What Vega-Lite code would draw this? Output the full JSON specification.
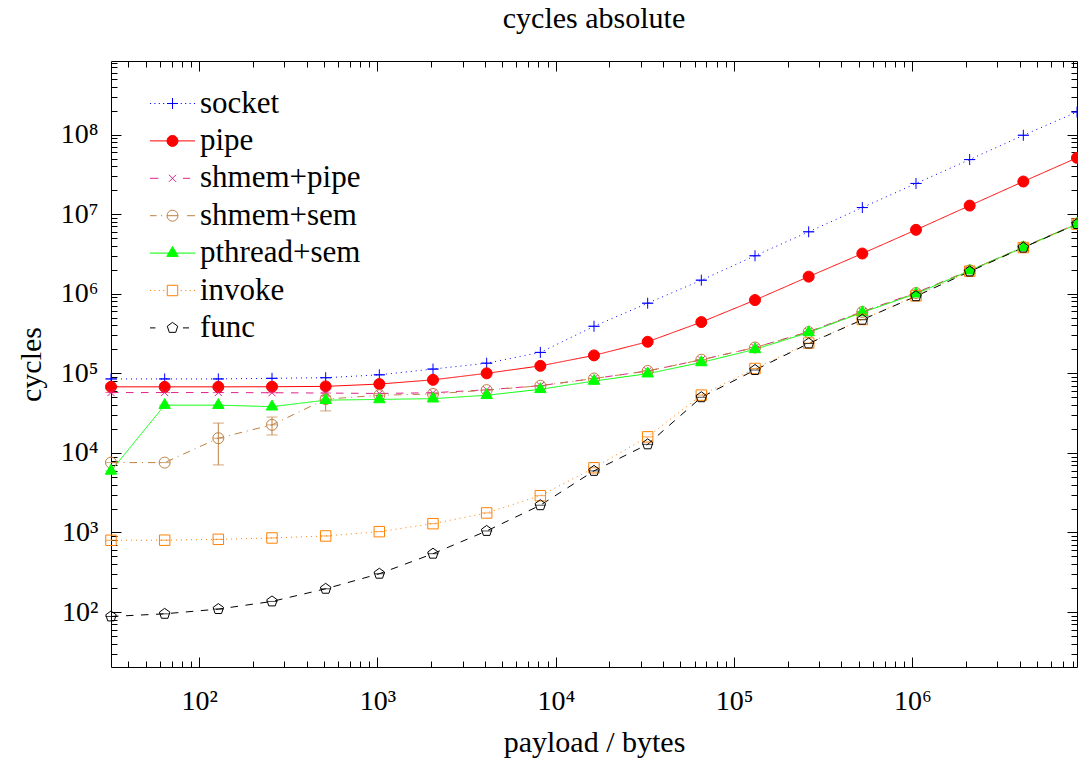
{
  "$schema": "https://vega.github.io/schema/vega-lite/v6.json",
  "width": 966,
  "height": 606,
  "autosize": {"type": "none"},
  "padding": {"left": 111, "top": 61, "right": 1, "bottom": 96},
  "background": "white",
  "title": {"text": "cycles absolute", "font": "Liberation Serif", "fontSize": 30, "fontWeight": "normal", "color": "#000", "anchor": "middle", "frame": "group", "offset": 3, "baseline": "alphabetic"},
  "config": {
    "view": {"stroke": null},
    "font": "Liberation Serif",
    "axis": {"grid": false, "domainColor": "#000", "domainWidth": 1, "tickColor": "#000", "tickWidth": 1, "labelFont": "Liberation Serif", "labelFontSize": 28, "labelColor": "#000", "titleFont": "Liberation Serif", "titleFontSize": 30, "titleFontWeight": "normal", "titleColor": "#000", "labelOverlap": false, "labelFlush": false, "labelBound": false},
    "legend": {"labelFont": "Liberation Serif", "labelFontSize": 31, "labelColor": "#000", "symbolSize": 121, "symbolStrokeWidth": 1, "labelOffset": 12, "rowPadding": 5.4, "labelLimit": 0, "padding": 0}
  },
  "datasets": {
    "main": [
      {"s":"socket","x":32,"y":85000},{"s":"socket","x":64,"y":85000},{"s":"socket","x":128,"y":85000},{"s":"socket","x":256,"y":86500},{"s":"socket","x":512,"y":88000},{"s":"socket","x":1024,"y":95700},{"s":"socket","x":2048,"y":113000},{"s":"socket","x":4096,"y":134000},{"s":"socket","x":8192,"y":183000},{"s":"socket","x":16384,"y":390000},{"s":"socket","x":32768,"y":760000},{"s":"socket","x":65536,"y":1480000},{"s":"socket","x":131072,"y":3000000},{"s":"socket","x":262144,"y":6000000},{"s":"socket","x":524288,"y":12100000},{"s":"socket","x":1048576,"y":24300000},{"s":"socket","x":2097152,"y":48500000},{"s":"socket","x":4194304,"y":98000000},{"s":"socket","x":8388608,"y":192000000},
      {"s":"pipe","x":32,"y":67600},{"s":"pipe","x":64,"y":67600},{"s":"pipe","x":128,"y":67600},{"s":"pipe","x":256,"y":67800},{"s":"pipe","x":512,"y":68500},{"s":"pipe","x":1024,"y":73300},{"s":"pipe","x":2048,"y":82800},{"s":"pipe","x":4096,"y":100000},{"s":"pipe","x":8192,"y":124000},{"s":"pipe","x":16384,"y":168000},{"s":"pipe","x":32768,"y":249000},{"s":"pipe","x":65536,"y":440000},{"s":"pipe","x":131072,"y":832000},{"s":"pipe","x":262144,"y":1640000},{"s":"pipe","x":524288,"y":3200000},{"s":"pipe","x":1048576,"y":6350000},{"s":"pipe","x":2097152,"y":12800000},{"s":"pipe","x":4194304,"y":25700000},{"s":"pipe","x":8388608,"y":51000000},
      {"s":"shmem+pipe","x":32,"y":57300},{"s":"shmem+pipe","x":64,"y":57300},{"s":"shmem+pipe","x":128,"y":57300},{"s":"shmem+pipe","x":256,"y":57000},{"s":"shmem+pipe","x":512,"y":56500},{"s":"shmem+pipe","x":1024,"y":55800},{"s":"shmem+pipe","x":2048,"y":57000},{"s":"shmem+pipe","x":4096,"y":62000},{"s":"shmem+pipe","x":8192,"y":70000},{"s":"shmem+pipe","x":16384,"y":86000},{"s":"shmem+pipe","x":32768,"y":107000},{"s":"shmem+pipe","x":65536,"y":148000},{"s":"shmem+pipe","x":131072,"y":211000},{"s":"shmem+pipe","x":262144,"y":333000},{"s":"shmem+pipe","x":524288,"y":595000},{"s":"shmem+pipe","x":1048576,"y":1030000},{"s":"shmem+pipe","x":2097152,"y":1960000},{"s":"shmem+pipe","x":4194304,"y":3850000},{"s":"shmem+pipe","x":8388608,"y":7600000},
      {"s":"shmem+sem","x":32,"y":7550},{"s":"shmem+sem","x":64,"y":7550},{"s":"shmem+sem","x":128,"y":15300},{"s":"shmem+sem","x":256,"y":22500},{"s":"shmem+sem","x":512,"y":47300},{"s":"shmem+sem","x":1024,"y":53000},{"s":"shmem+sem","x":2048,"y":55000},{"s":"shmem+sem","x":4096,"y":61500},{"s":"shmem+sem","x":8192,"y":69700},{"s":"shmem+sem","x":16384,"y":86000},{"s":"shmem+sem","x":32768,"y":107000},{"s":"shmem+sem","x":65536,"y":148000},{"s":"shmem+sem","x":131072,"y":211000},{"s":"shmem+sem","x":262144,"y":330000},{"s":"shmem+sem","x":524288,"y":590000},{"s":"shmem+sem","x":1048576,"y":1020000},{"s":"shmem+sem","x":2097152,"y":1960000},{"s":"shmem+sem","x":4194304,"y":3850000},{"s":"shmem+sem","x":8388608,"y":7600000},
      {"s":"pthread+sem","x":32,"y":5940},{"s":"pthread+sem","x":64,"y":39800},{"s":"pthread+sem","x":128,"y":39800},{"s":"pthread+sem","x":256,"y":38100},{"s":"pthread+sem","x":512,"y":46000},{"s":"pthread+sem","x":1024,"y":47000},{"s":"pthread+sem","x":2048,"y":48000},{"s":"pthread+sem","x":4096,"y":53000},{"s":"pthread+sem","x":8192,"y":63000},{"s":"pthread+sem","x":16384,"y":80000},{"s":"pthread+sem","x":32768,"y":99000},{"s":"pthread+sem","x":65536,"y":137000},{"s":"pthread+sem","x":131072,"y":200000},{"s":"pthread+sem","x":262144,"y":326000},{"s":"pthread+sem","x":524288,"y":582000},{"s":"pthread+sem","x":1048576,"y":1000000},{"s":"pthread+sem","x":2097152,"y":1950000},{"s":"pthread+sem","x":4194304,"y":3820000},{"s":"pthread+sem","x":8388608,"y":7500000},
      {"s":"invoke","x":32,"y":798},{"s":"invoke","x":64,"y":800},{"s":"invoke","x":128,"y":820},{"s":"invoke","x":256,"y":853},{"s":"invoke","x":512,"y":904},{"s":"invoke","x":1024,"y":1024},{"s":"invoke","x":2048,"y":1290},{"s":"invoke","x":4096,"y":1760},{"s":"invoke","x":8192,"y":2900},{"s":"invoke","x":16384,"y":6500},{"s":"invoke","x":32768,"y":15900},{"s":"invoke","x":65536,"y":53200},{"s":"invoke","x":131072,"y":115000},{"s":"invoke","x":262144,"y":240000},{"s":"invoke","x":524288,"y":475000},{"s":"invoke","x":1048576,"y":940000},{"s":"invoke","x":2097152,"y":1920000},{"s":"invoke","x":4194304,"y":3800000},{"s":"invoke","x":8388608,"y":7500000},
      {"s":"func","x":32,"y":88},{"s":"func","x":64,"y":95},{"s":"func","x":128,"y":109},{"s":"func","x":256,"y":136},{"s":"func","x":512,"y":196},{"s":"func","x":1024,"y":303},{"s":"func","x":2048,"y":541},{"s":"func","x":4096,"y":1045},{"s":"func","x":8192,"y":2200},{"s":"func","x":16384,"y":5940},{"s":"func","x":32768,"y":12800},{"s":"func","x":65536,"y":50000},{"s":"func","x":131072,"y":110000},{"s":"func","x":262144,"y":237000},{"s":"func","x":524288,"y":471000},{"s":"func","x":1048576,"y":930000},{"s":"func","x":2097152,"y":1900000},{"s":"func","x":4194304,"y":3800000},{"s":"func","x":8388608,"y":7500000}
    ],
    "errs": [
      {"s":"shmem+sem","x":128,"lo":7060,"hi":23700},
      {"s":"shmem+sem","x":256,"lo":16800,"hi":28200},
      {"s":"shmem+sem","x":512,"lo":33700,"hi":52000}
    ]
  },
  "layer": [
    {
      "data": {"name": "errs"},
      "mark": {"type": "rule", "color": "#bf8040", "strokeWidth": 1},
      "encoding": {
        "x": {"field": "x", "type": "quantitative", "scale": {"type": "log", "domain": [32, 8388608], "nice": false},
          "axis": {"orient": "top", "title": null, "labels": false, "values": [40,50,60,70,80,90,100,200,300,400,500,600,700,800,900,1000,2000,3000,4000,5000,6000,7000,8000,9000,10000,20000,30000,40000,50000,60000,70000,80000,90000,100000,200000,300000,400000,500000,600000,700000,800000,900000,1000000,2000000,3000000,4000000,5000000,6000000,7000000,8000000],
            "tickSize": {"condition": {"test": "abs(log(datum.value)/LN10 - round(log(datum.value)/LN10)) < 0.000001", "value": -10}, "value": -6}}},
        "y": {"field": "lo", "type": "quantitative", "scale": {"type": "log", "domain": [20.4, 840000000], "nice": false},
          "axis": {"orient": "right", "title": null, "labels": false, "values": [30,40,50,60,70,80,90,100,200,300,400,500,600,700,800,900,1000,2000,3000,4000,5000,6000,7000,8000,9000,10000,20000,30000,40000,50000,60000,70000,80000,90000,100000,200000,300000,400000,500000,600000,700000,800000,900000,1000000,2000000,3000000,4000000,5000000,6000000,7000000,8000000,9000000,10000000,20000000,30000000,40000000,50000000,60000000,70000000,80000000,90000000,100000000,200000000,300000000,400000000,500000000,600000000,700000000,800000000],
            "tickSize": {"condition": {"test": "abs(log(datum.value)/LN10 - round(log(datum.value)/LN10)) < 0.000001", "value": -10}, "value": -6}}},
        "y2": {"field": "hi"}
      }
    },
    {
      "data": {"name": "errs"},
      "mark": {"type": "tick", "orient": "horizontal", "size": 11, "thickness": 1, "color": "#bf8040"},
      "encoding": {
        "x": {"field": "x", "type": "quantitative",
          "axis": {"orient": "bottom", "title": null, "labels": false, "values": [40,50,60,70,80,90,100,200,300,400,500,600,700,800,900,1000,2000,3000,4000,5000,6000,7000,8000,9000,10000,20000,30000,40000,50000,60000,70000,80000,90000,100000,200000,300000,400000,500000,600000,700000,800000,900000,1000000,2000000,3000000,4000000,5000000,6000000,7000000,8000000],
            "tickSize": {"condition": {"test": "abs(log(datum.value)/LN10 - round(log(datum.value)/LN10)) < 0.000001", "value": -10}, "value": -6}}},
        "y": {"field": "lo", "type": "quantitative",
          "axis": {"orient": "left", "title": null, "labels": false, "values": [30,40,50,60,70,80,90,100,200,300,400,500,600,700,800,900,1000,2000,3000,4000,5000,6000,7000,8000,9000,10000,20000,30000,40000,50000,60000,70000,80000,90000,100000,200000,300000,400000,500000,600000,700000,800000,900000,1000000,2000000,3000000,4000000,5000000,6000000,7000000,8000000,9000000,10000000,20000000,30000000,40000000,50000000,60000000,70000000,80000000,90000000,100000000,200000000,300000000,400000000,500000000,600000000,700000000,800000000],
            "tickSize": {"condition": {"test": "abs(log(datum.value)/LN10 - round(log(datum.value)/LN10)) < 0.000001", "value": -10}, "value": -6}}}
      }
    },
    {
      "data": {"name": "errs"},
      "mark": {"type": "tick", "orient": "horizontal", "size": 11, "thickness": 1, "color": "#bf8040"},
      "encoding": {
        "x": {"field": "x", "type": "quantitative", "axis": null},
        "y": {"field": "hi", "type": "quantitative", "axis": null}
      }
    },
    {
      "data": {"name": "main"},
      "mark": {"type": "line", "strokeWidth": 1},
      "encoding": {
        "x": {"field": "x", "type": "quantitative",
          "axis": {"orient": "bottom", "title": "payload / bytes", "titlePadding": 12, "labelPadding": 20, "ticks": false, "tickSize": 0, "domain": false,
            "labelFont": "Liberation Serif", "labelFontSize": 28,
            "values": [100,1000,10000,100000,1000000],
            "labelExpr": "'10' + ['⁰','¹','²','³','⁴','⁵','⁶','⁷','⁸','⁹'][round(log(datum.value)/LN10)]"}},
        "y": {"field": "y", "type": "quantitative",
          "axis": {"orient": "left", "title": "cycles", "titlePadding": 14, "labelPadding": 13, "ticks": false, "tickSize": 0, "domain": false,
            "labelFont": "Liberation Serif", "labelFontSize": 28,
            "values": [100,1000,10000,100000,1000000,10000000,100000000],
            "labelExpr": "'10' + ['⁰','¹','²','³','⁴','⁵','⁶','⁷','⁸','⁹'][round(log(datum.value)/LN10)]"}},
        "stroke": {"field": "s", "type": "nominal", "legend": null,
          "scale": {"domain": ["socket","pipe","shmem+pipe","shmem+sem","pthread+sem","invoke","func"], "range": ["#0000ff","#ff0000","#e0228c","#bf8040","#00ff00","#ff8000","#000000"]}},
        "strokeDash": {"field": "s", "type": "nominal", "legend": null,
          "scale": {"domain": ["socket","pipe","shmem+pipe","shmem+sem","pthread+sem","invoke","func"], "range": [[1,4],[1,0],[7.5,7.5],[7.5,5,1,5],[1,0],[1,4],[7.5,7.5]]}}
      }
    },
    {
      "data": {"name": "main"},
      "mark": {"type": "tick", "orient": "horizontal", "size": 11, "thickness": 1},
      "encoding": {
        "x": {"field": "x", "type": "quantitative", "axis": null},
        "y": {"field": "y", "type": "quantitative", "axis": null},
        "color": {"field": "s", "type": "nominal", "legend": null,
          "scale": {"domain": ["socket","pipe","shmem+pipe","shmem+sem","pthread+sem","invoke","func"], "range": ["#0000ff","#ff0000","#e0228c","#bf8040","#00ff00","#ff8000","#000000"]}}
      }
    },
    {
      "data": {"name": "main"},
      "mark": {"type": "point", "size": 121, "strokeWidth": 1, "opacity": 1},
      "encoding": {
        "x": {"field": "x", "type": "quantitative", "axis": null},
        "y": {"field": "y", "type": "quantitative", "axis": null},
        "color": {"field": "s", "type": "nominal", "legend": null,
          "scale": {"domain": ["socket","pipe","shmem+pipe","shmem+sem","pthread+sem","invoke","func"], "range": ["#0000ff","#ff0000","#e0228c","#bf8040","#00ff00","#ff8000","#000000"]}},
        "fill": {"field": "s", "type": "nominal", "legend": null,
          "scale": {"domain": ["socket","pipe","shmem+pipe","shmem+sem","pthread+sem","invoke","func"], "range": ["transparent","#ff0000","transparent","transparent","#00ff00","transparent","transparent"]}},
        "shape": {"field": "s", "type": "nominal", "legend": null,
          "scale": {"domain": ["socket","pipe","shmem+pipe","shmem+sem","pthread+sem","invoke","func"], "range": ["M-1,0H1M0,-1V1","circle","M-0.65,-0.65L0.65,0.65M-0.65,0.65L0.65,-0.65","circle","M0,-1.2L1.04,0.6L-1.04,0.6Z","M-0.95,-0.95H0.95V0.95H-0.95Z","M0,-1L0.951,-0.309L0.588,0.809L-0.588,0.809L-0.951,-0.309Z"]}}
      }
    },
    {
      "data": {"name": "main"},
      "transform": [{"filter": "false"}],
      "mark": {"type": "point", "size": 121, "strokeWidth": 1},
      "encoding": {
        "x": {"field": "x", "type": "quantitative", "axis": null},
        "y": {"field": "y", "type": "quantitative", "axis": null},
        "color": {"field": "s", "type": "nominal",
          "scale": {"domain": ["socket","pipe","shmem+pipe","shmem+sem","pthread+sem","invoke","func"], "range": ["#0000ff","#ff0000","#e0228c","#bf8040","#00ff00","#ff8000","#000000"]},
          "legend": {"orient": "none", "legendX": 46, "legendY": 27, "title": null, "padding": 0, "labelFont": "Liberation Serif", "labelFontSize": 31, "labelColor": "#000", "symbolSize": 121, "symbolStrokeWidth": 1, "labelOffset": 12, "rowPadding": 5.4, "labelLimit": 0, "symbolOpacity": 1}},
        "fill": {"field": "s", "type": "nominal",
          "scale": {"domain": ["socket","pipe","shmem+pipe","shmem+sem","pthread+sem","invoke","func"], "range": ["transparent","#ff0000","transparent","transparent","#00ff00","transparent","transparent"]},
          "legend": {"orient": "none", "legendX": 46, "legendY": 27, "title": null, "padding": 0, "labelFont": "Liberation Serif", "labelFontSize": 31, "labelColor": "#000", "symbolSize": 121, "symbolStrokeWidth": 1, "labelOffset": 12, "rowPadding": 5.4, "labelLimit": 0, "symbolOpacity": 1}},
        "shape": {"field": "s", "type": "nominal",
          "scale": {"domain": ["socket","pipe","shmem+pipe","shmem+sem","pthread+sem","invoke","func"], "range": [
            "M-4.1,0H-3.9M-3.3,0H-3.1M-2.5,0H-2.3M-1.7,0H-1.5M1.5,0H1.7M2.3,0H2.5M3.1,0H3.3M3.9,0H4.1M-1,0H1M0,-1V1",
            "M-4.09,0H4.09M1,0A1,1 0 1,1 -1,0A1,1 0 1,1 1,0Z",
            "M-4.09,0H-2.58M1.9,0H3.2M-0.65,-0.65L0.65,0.65M-0.65,0.65L0.65,-0.65",
            "M-4.09,0H-2.9M-2.1,0H-1.9M-1,0H1M1,0A1,1 0 1,1 -1,0A1,1 0 1,1 1,0M2.63,0H4.09",
            "M-4.09,0H4.09M0,-1.2L1.04,0.6L-1.04,0.6Z",
            "M-4.1,0H-3.9M-3.3,0H-3.1M-2.5,0H-2.3M-1.7,0H-1.5M1.5,0H1.7M2.3,0H2.5M3.1,0H3.3M3.9,0H4.1M-0.95,-0.95H0.95V0.95H-0.95Z",
            "M-4.09,0H-3.1M1.9,0H3.0M0,-1L0.951,-0.309L0.588,0.809L-0.588,0.809L-0.951,-0.309Z"]},
          "legend": {"orient": "none", "legendX": 46, "legendY": 27, "title": null, "padding": 0, "labelFont": "Liberation Serif", "labelFontSize": 31, "labelColor": "#000", "symbolSize": 121, "symbolStrokeWidth": 1, "labelOffset": 12, "rowPadding": 5.4, "labelLimit": 0, "symbolOpacity": 1}}
      }
    }
  ],
  "resolve": {
    "axis": {"x": "independent", "y": "independent"},
    "scale": {"color": "independent", "fill": "independent", "shape": "independent"},
    "legend": {"color": "independent", "fill": "independent", "shape": "independent"}
  }
}
